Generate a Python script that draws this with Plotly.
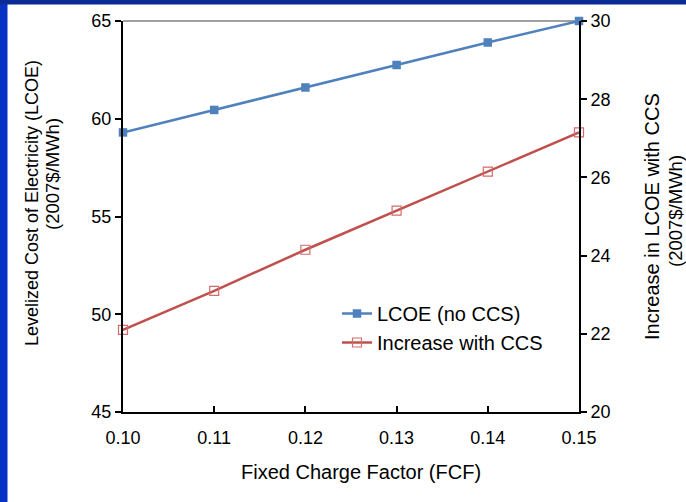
import plotly.graph_objects as go

fcf = [0.10, 0.11, 0.12, 0.13, 0.14, 0.15]
lcoe_no_ccs = [59.3, 60.45, 61.6, 62.75, 63.9, 65.0]
increase_ccs = [22.1, 23.1, 24.15, 25.15, 26.15, 27.15]
x_ticks = [0.10, 0.11, 0.12, 0.13, 0.14, 0.15]
x_tick_labels = ["0.10", "0.11", "0.12", "0.13", "0.14", "0.15"]

x_title = "Fixed Charge Factor (FCF)"
y_title_lines = ["Levelized Cost of Electricity (LCOE)", "(2007$/MWh)"]
y2_title_lines = ["Increase in LCOE with CCS", "(2007$/MWh)"]

W, H = 686, 502
ML, MR, MT, MB = 123, 107, 21, 90
PW, PH = W - ML - MR, H - MT - MB

FONT = "Liberation Sans, Arial, sans-serif"

fig = go.Figure()
fig.add_trace(go.Scatter(
    x=fcf, y=lcoe_no_ccs, name="LCOE (no CCS)", mode="lines+markers",
    line=dict(color="#4f81bd", width=2.5),
    marker=dict(symbol="square", size=8.5, color="#4f81bd"),
    yaxis="y", cliponaxis=False,
))
fig.add_trace(go.Scatter(
    x=fcf, y=increase_ccs, name="Increase with CCS", mode="lines+markers",
    line=dict(color="#c0504d", width=2.5),
    marker=dict(symbol="square-open", size=9, color="#d46a6a", line=dict(width=1.2)),
    yaxis="y2", cliponaxis=False,
))

def px_x(p):
    return (p - ML) / PW

def px_y(p):
    return 1 - (p - MT) / PH

shapes = [
    dict(type="line", xref="paper", yref="paper", x0=0, x1=1, y0=1, y1=1,
         line=dict(color="#a0a0a0", width=2), layer="below"),
    dict(type="rect", xref="paper", yref="paper", x0=px_x(0), x1=px_x(7.5),
         y0=px_y(H), y1=px_y(0), fillcolor="#0633c4", line=dict(width=0), layer="below"),
    dict(type="rect", xref="paper", yref="paper", x0=px_x(0), x1=px_x(W),
         y0=px_y(4.5), y1=px_y(0), fillcolor="#0a2a96", line=dict(width=0), layer="below"),
]

def label(text, cx, cy, size, angle=0):
    return dict(text=text, xref="paper", yref="paper", x=px_x(cx), y=px_y(cy),
                xanchor="center", yanchor="middle", showarrow=False,
                textangle=angle, font=dict(family=FONT, size=size, color="black"))

annotations = [
    label(x_title, 361, 472, 20),
    label(y_title_lines[0], 32, 203, 18, -90),
    label(y_title_lines[1], 53, 174, 18.5, -90),
    label(y2_title_lines[0], 652, 217, 20, -90),
    label(y2_title_lines[1], 676, 211, 18.5, -90),
]

fig.update_layout(
    width=W, height=H,
    margin=dict(l=ML, r=MR, t=MT, b=MB, autoexpand=False),
    paper_bgcolor="white", plot_bgcolor="white",
    font=dict(family=FONT, size=18, color="black"),
    showlegend=True,
    legend=dict(x=px_x(337), y=px_y(294), xanchor="left", yanchor="top",
                font=dict(size=20), bgcolor="rgba(0,0,0,0)", tracegroupgap=0,
                itemwidth=30),
    xaxis=dict(
        range=[0.10, 0.15], tickvals=x_ticks, ticktext=x_tick_labels,
        showgrid=False, zeroline=False, showline=True, linecolor="black", linewidth=2,
        ticks="inside", ticklen=6, tickwidth=1.5, tickcolor="black",
        tickfont=dict(size=18), ticklabelstandoff=8, automargin=False,
    ),
    yaxis=dict(
        range=[45, 65], dtick=5, showgrid=False, zeroline=False,
        showline=True, linecolor="black", linewidth=2,
        ticks="outside", ticklen=6, tickwidth=1.5, tickcolor="black",
        tickfont=dict(size=18), automargin=False,
    ),
    yaxis2=dict(
        range=[20, 30], dtick=2, overlaying="y", side="right",
        showgrid=False, zeroline=False, showline=True, linecolor="black", linewidth=2,
        ticks="outside", ticklen=6, tickwidth=1.5, tickcolor="black",
        tickfont=dict(size=18), automargin=False,
    ),
    shapes=shapes,
    annotations=annotations,
)

fig.write_html("out.html", config={"displayModeBar": False},
               post_script="document.body.style.margin='0';document.body.style.overflow='hidden';")
